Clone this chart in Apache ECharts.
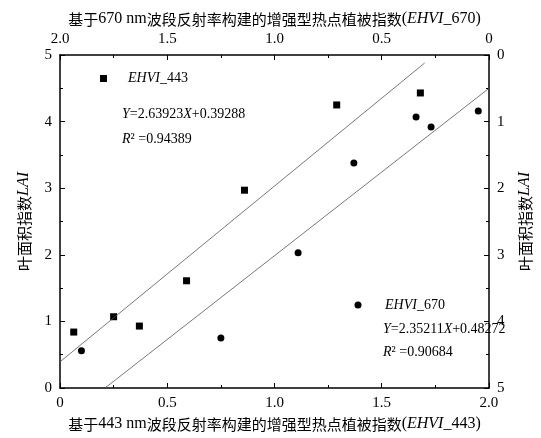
<!DOCTYPE html>
<html><head><meta charset="utf-8">
<script src="https://cdn.jsdelivr.net/npm/echarts@6/dist/echarts.min.js"></script>
<style>html,body{margin:0;padding:0;background:#fff}#c{width:541px;height:438px}</style>
</head><body><div id="c"></div>
<script>
// EHVI_443 vs LAI
const ehvi443 = [[0.064, 0.84], [0.25, 1.07], [0.37, 0.93], [0.59, 1.61], [0.86, 2.97], [1.29, 4.25], [1.68, 4.43]];
// EHVI_670 points plotted in bottom/left frame
const ehvi670 = [[0.10, 0.56], [0.75, 0.75], [1.11, 2.03], [1.37, 3.38], [1.66, 4.07], [1.73, 3.92], [1.95, 4.16]];
const fit443 = [[0, 0.39288], [1.70, 4.88]];
const fit670 = [[0.21, 0], [2.0, 4.5]];

const font = "'Liberation Serif','Noto Sans CJK SC'";
const cn = "'Noto Sans CJK SC'";
const nameRich = {
  c: { fontFamily: cn, fontSize: 15, color: '#000' },
  n: { fontFamily: font, fontSize: 16, color: '#000' },
  i: { fontFamily: font, fontSize: 16, fontStyle: 'italic', color: '#000' }
};
const axisCommon = {
  min: 0, interval: 0.5,
  axisLine: { lineStyle: { color: '#000', width: 1.5 } },
  axisTick: { inside: true, length: 5, lineStyle: { color: '#000' } },
  minorTick: { show: true, splitNumber: 2, length: 3, lineStyle: { color: '#000' } },
  splitLine: { show: false },
  axisLabel: { color: '#000', fontFamily: font, fontSize: 15, formatter: v => v === 0 ? '0' : v.toFixed(1) },
  nameTextStyle: { rich: nameRich }
};
const yCommon = {
  min: 0, max: 5, interval: 1,
  axisLine: { lineStyle: { color: '#000', width: 1.5 } },
  axisTick: { inside: true, length: 5, lineStyle: { color: '#000' } },
  minorTick: { show: true, splitNumber: 2, length: 3, lineStyle: { color: '#000' } },
  splitLine: { show: false },
  axisLabel: { color: '#000', fontFamily: font, fontSize: 15 },
  name: '{c|叶面积指数}{i|LAI}', nameLocation: 'middle', nameGap: 28,
  nameTextStyle: { rich: nameRich }
};
const rich = { i: { fontStyle: 'italic', fontFamily: font, fontSize: 14 }, n: { fontFamily: font, fontSize: 14 } };
const chart = echarts.init(document.getElementById('c'));
chart.setOption({
  animation: false,
  grid: { left: 60, right: 43, top: 55, bottom: 50 },
  xAxis: [
    Object.assign({}, axisCommon, { position: 'bottom', max: 2,
      name: '{c|基于}{n|443 nm}{c|波段反射率构建的增强型热点植被指数}{n|(}{i|EHVI}{n|_443)}', nameLocation: 'middle', nameGap: 24 }),
    Object.assign({}, axisCommon, { position: 'top', max: 2, inverse: true,
      name: '{c|基于}{n|670 nm}{c|波段反射率构建的增强型热点植被指数}{n|(}{i|EHVI}{n|_670)}', nameLocation: 'middle', nameGap: 26 })
  ],
  yAxis: [
    Object.assign({}, yCommon, { position: 'left' }),
    Object.assign({}, yCommon, { position: 'right', inverse: true })
  ],
  series: [
    { type: 'scatter', data: ehvi443, symbol: 'rect', symbolSize: 7, itemStyle: { color: '#000', opacity: 1 } },
    { type: 'scatter', data: ehvi670, symbol: 'circle', symbolSize: 7, itemStyle: { color: '#000', opacity: 1 } },
    { type: 'line', data: fit443, symbol: 'none', lineStyle: { color: '#555', width: 0.8 } },
    { type: 'line', data: fit670, symbol: 'none', lineStyle: { color: '#555', width: 0.8 } }
  ],
  graphic: [
    { type: 'rect', shape: { x: 100, y: 75, width: 7, height: 7 }, style: { fill: '#000' } },
    { type: 'text', left: 128, top: 71, style: { rich, text: '{i|EHVI}{n|_443}' } },
    { type: 'text', left: 122, top: 107, style: { rich, text: '{i|Y}{n|=2.63923}{i|X}{n|+0.39288}' } },
    { type: 'text', left: 122, top: 132, style: { rich, text: '{i|R}{n|² =0.94389}' } },
    { type: 'circle', shape: { cx: 358, cy: 305, r: 3.5 }, style: { fill: '#000' } },
    { type: 'text', left: 385, top: 298, style: { rich, text: '{i|EHVI}{n|_670}' } },
    { type: 'text', left: 383, top: 322, style: { rich, text: '{i|Y}{n|=2.35211}{i|X}{n|+0.48272}' } },
    { type: 'text', left: 383, top: 345, style: { rich, text: '{i|R}{n|² =0.90684}' } }
  ]
});
</script></body></html>
